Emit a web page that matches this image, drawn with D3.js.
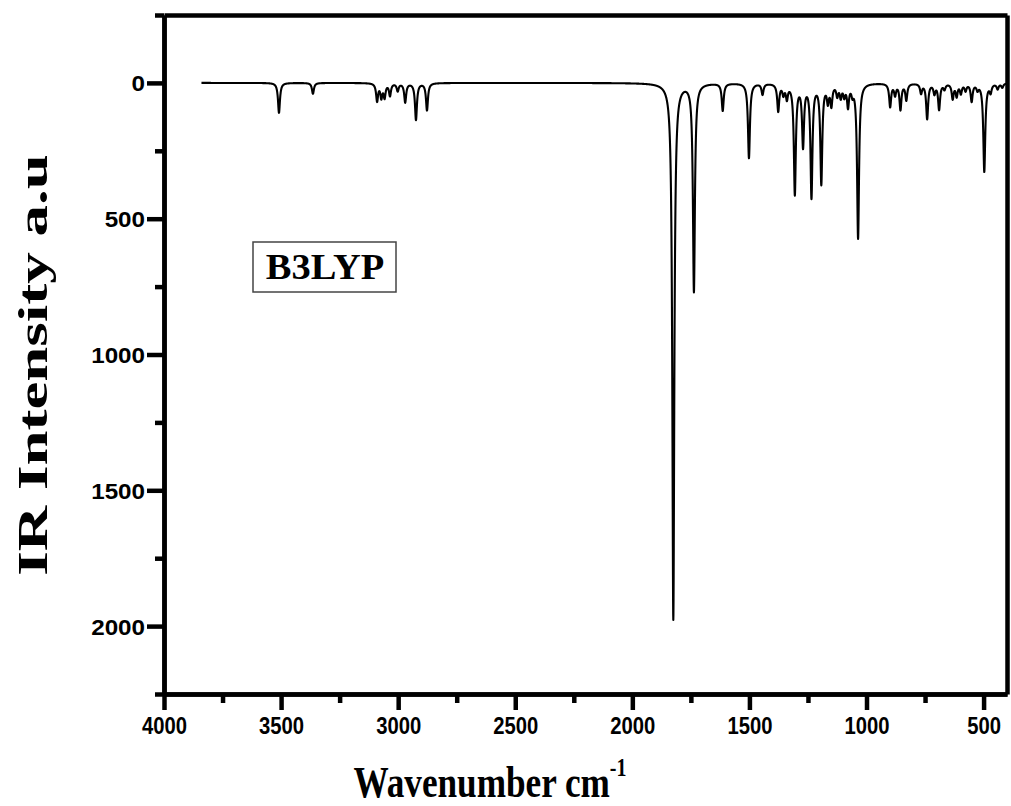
<!DOCTYPE html>
<html><head><meta charset="utf-8">
<script src="https://cdn.jsdelivr.net/npm/d3@7"></script>
<style>body{margin:0;background:#fff}svg{display:block}</style>
</head><body>
<svg id="c" width="1011" height="806"></svg>
<script>
// Peak list (wavenumber cm-1, IR intensity a.u.)
const peakWavenumbers = [3509, 3364, 3090, 3072, 3058, 3035, 3002, 2970, 2924, 2877,
  1825, 1737, 1614, 1502, 1444, 1377, 1355, 1340, 1306, 1271, 1235, 1193, 1165, 1150,
  1125, 1110, 1095, 1079, 1060, 1036, 899, 878, 855, 830, 767, 741, 710, 690, 667, 632, 615, 597,
  577, 551, 526, 497, 470, 440, 420];
const peakIntensities = [110, 40, 65, 50, 50, 45, 28, 70, 135, 100,
  1975, 765, 100, 275, 40, 100, 35, 50, 405, 225, 415, 365, 60, 75,
  40, 45, 40, 80, 30, 570, 85, 40, 95, 60, 35, 130, 35, 95, 20, 55, 45, 35,
  25, 65, 20, 325, 30, 20, 15];
const xTickValues = [4000, 3500, 3000, 2500, 2000, 1500, 1000, 500];
const yTickValues = [0, 500, 1000, 1500, 2000];
const xDomain = [4000, 400];
const yDomain = [-250, 2250];
const spectrumRange = [3840, 400];
const halfWidth = 5; // Lorentzian HWHM (cm-1)
const labelText = "B3LYP";

const svg = d3.select("#c");
const L = 164, R = 1007, T = 15, B = 694;
const x = d3.scaleLinear().domain(xDomain).range([L, R]);
const y = d3.scaleLinear().domain(yDomain).range([T, B]);

// spectrum samples
const pts = [];
for (let w = spectrumRange[0]; w >= spectrumRange[1]; w -= 0.5) {
  let v = 0;
  for (let k = 0; k < peakWavenumbers.length; k++) {
    const d = w - peakWavenumbers[k];
    v += peakIntensities[k] * halfWidth * halfWidth / (d * d + halfWidth * halfWidth);
  }
  pts.push([w, v]);
}

svg.append("path")
  .datum(pts)
  .attr("fill", "none").attr("stroke", "#000").attr("stroke-width", 2.1)
  .attr("stroke-linejoin", "round")
  .attr("d", d3.line().x(d => x(d[0])).y(d => y(d[1])));

const axisW = 4.5;
const sansFont = "Liberation Sans, Arial, sans-serif";
const serifFont = "Liberation Serif, Times New Roman, serif";
function styleAxis(g) {
  g.selectAll("path.domain").attr("stroke-width", axisW).attr("stroke", "#000");
  g.selectAll(".tick line").attr("stroke-width", axisW).attr("stroke", "#000");
  g.selectAll("text").attr("font-family", sansFont)
    .attr("font-weight", "bold").attr("fill", "#000");
}

// minor ticks
const xMinor = d3.range(3750, 400, -500);
const yMinor = [-250, 250, 750, 1250, 1750, 2250];
svg.append("g").attr("transform", `translate(0,${B})`)
  .call(d3.axisBottom(x).tickValues(xMinor).tickSize(9).tickSizeOuter(0).tickFormat(""))
  .call(styleAxis);
svg.append("g").attr("transform", `translate(${L},0)`)
  .call(d3.axisLeft(y).tickValues(yMinor).tickSize(9).tickSizeOuter(0).tickFormat(""))
  .call(styleAxis);

// major axes
const fmt = d3.format("d");
const gx = svg.append("g").attr("transform", `translate(0,${B})`)
  .call(d3.axisBottom(x).tickValues(xTickValues).tickSize(16).tickSizeOuter(0).tickFormat(fmt))
  .call(styleAxis);
gx.selectAll("text").attr("font-size", 23).attr("y", 0).attr("dy", null)
  .attr("transform", "translate(0,40) scale(0.88,1)");
const gy = svg.append("g").attr("transform", `translate(${L},0)`)
  .call(d3.axisLeft(y).tickValues(yTickValues).tickSize(17).tickSizeOuter(0).tickFormat(fmt))
  .call(styleAxis);
gy.selectAll("text").attr("font-size", 22).attr("x", 0).attr("dy", null)
  .attr("transform", "translate(-19,8) scale(1.1,1)");

// box top/right
svg.append("g").attr("transform", `translate(0,${T})`)
  .call(d3.axisTop(x).tickValues([]).tickSizeOuter(0)).call(styleAxis);
svg.append("g").attr("transform", `translate(${R},0)`)
  .call(d3.axisRight(y).tickValues([]).tickSizeOuter(0)).call(styleAxis);

// label box
const lb = svg.append("g");
lb.append("rect").attr("x", 253).attr("y", 242).attr("width", 143).attr("height", 50)
  .attr("fill", "#fff").attr("stroke", "#444").attr("stroke-width", 1.5);
lb.append("text").attr("transform", "translate(325,279) scale(1.1,1)").attr("text-anchor", "middle")
  .attr("font-family", serifFont).attr("font-weight", "bold")
  .attr("font-size", 35).text(labelText);

// axis titles
const xt = svg.append("text").attr("transform", "translate(490,797) scale(0.8,1)")
  .attr("text-anchor", "middle")
  .attr("font-family", serifFont).attr("font-weight", "bold")
  .attr("font-size", 44);
xt.append("tspan").text("Wavenumber cm");
xt.append("tspan").attr("dy", -21).attr("font-size", 25).text("-1");

svg.append("text").attr("transform", "translate(47,365) scale(1,1.5) rotate(-90)")
  .attr("text-anchor", "middle")
  .attr("font-family", serifFont).attr("font-weight", "bold")
  .attr("font-size", 42).text("IR Intensity a.u");
</script>
</body></html>
